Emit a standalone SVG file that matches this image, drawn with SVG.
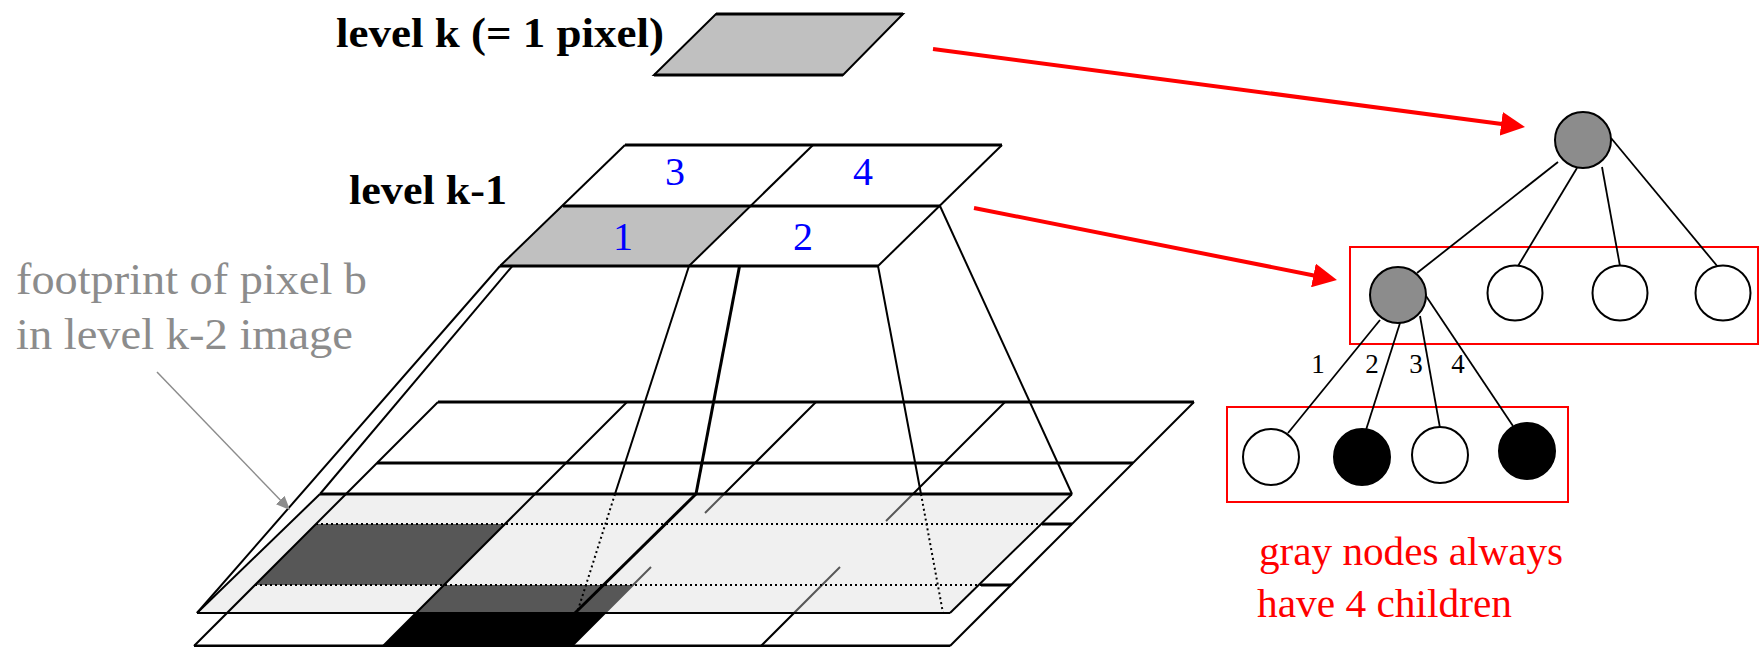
<svg xmlns="http://www.w3.org/2000/svg" width="1761" height="647" viewBox="0 0 1761 647">
<style>
.ln{stroke:#000;stroke-width:2;fill:none}
.th{stroke:#000;stroke-width:3;fill:none}
.dot{stroke:#000;stroke-width:2;fill:none;stroke-dasharray:2 3}
.lbl{font-family:"Liberation Serif","Times New Roman",serif;font-weight:bold;font-size:42px;fill:#000}
.gtxt{font-family:"Liberation Serif","Times New Roman",serif;font-size:44px;fill:#8c8c8c}
.num{font-family:"Liberation Serif","Times New Roman",serif;font-size:40px;fill:#0000ff;text-anchor:middle}
.rtxt{font-family:"Liberation Serif","Times New Roman",serif;font-size:40px;fill:#ff0000}
.enum{font-family:"Liberation Serif","Times New Roman",serif;font-size:27px;fill:#000;text-anchor:middle}
.red{stroke:#ff0000;stroke-width:4;fill:none}
.box{stroke:#ff0000;stroke-width:2;fill:none}
.node{stroke:#000;stroke-width:2}
.tree{stroke:#000;stroke-width:1.8;fill:none}
.cell{stroke:none}
</style>
<defs>
<marker id="redhead" markerUnits="userSpaceOnUse" markerWidth="24" markerHeight="24" refX="12" refY="12" orient="auto">
<path d="M0,0 L24,12 L0,24 z" fill="#ff0000"/>
</marker>
<marker id="grayhead" markerUnits="userSpaceOnUse" markerWidth="14" markerHeight="12" refX="7" refY="6" orient="auto">
<path d="M0,0 L14,6 L0,12 z" fill="#8c8c8c"/>
</marker>
</defs>
<rect width="1761" height="647" fill="#fff"/>

<!-- level k-2 grid (4x4) -->
<g id="level-k2-grid">
<polygon class="cell" points="438,402 1194,402 950,646 194,646" fill="#fff"/>
<polygon class="cell" points="316,524 505,524 444,585 255,585" fill="#000"/>
<polygon class="cell" points="444,585 633,585 572,646 383,646" fill="#000"/>
<line class="th" x1="438" y1="402" x2="1194" y2="402"/>
<line class="th" x1="377" y1="463" x2="1133" y2="463"/>
<line class="th" x1="1042" y1="524" x2="1072" y2="524"/>
<line class="th" x1="981" y1="585" x2="1011" y2="585"/>
<line class="th" x1="194" y1="646" x2="950" y2="646"/>
<line class="ln" x1="1194" y1="402" x2="950" y2="646"/>
<line class="ln" x1="816" y1="402" x2="705" y2="513"/>
<line class="ln" x1="651" y1="567" x2="572" y2="646"/>
<line class="ln" x1="1005" y1="402" x2="886" y2="521"/>
<line class="ln" x1="840" y1="567" x2="761" y2="646"/>
</g>

<!-- footprint of pixel b (shaded) -->
<g id="footprint">
<polygon points="320,494 1072,494 950,613 197,613" fill="#d9d9d9" fill-opacity="0.4"/>
<line class="dot" x1="316" y1="524" x2="1042" y2="524"/>
<line class="dot" x1="255" y1="585" x2="981" y2="585"/>
<line class="ln" x1="438" y1="402" x2="194" y2="646"/>
<line class="ln" x1="627" y1="402" x2="383" y2="646"/>
<line class="th" x1="320" y1="494" x2="1072" y2="494"/>
<line class="ln" x1="197" y1="613" x2="950" y2="613"/>
<line class="ln" x1="320" y1="494" x2="197" y2="613"/>
<line class="ln" x1="1072" y1="494" x2="950" y2="613"/>
<line class="th" x1="696" y1="494" x2="575" y2="613"/>
</g>

<!-- projection lines -->
<g id="projection-lines">
<line class="ln" x1="500" y1="266" x2="197" y2="613"/>
<line class="ln" x1="563" y1="206" x2="320" y2="494"/>
<line class="th" x1="751" y1="206" x2="696" y2="494"/>
<line class="ln" x1="689" y1="266" x2="615" y2="494"/>
<line class="dot" x1="615" y1="494" x2="577" y2="613"/>
<line class="ln" x1="940" y1="206" x2="1072" y2="494"/>
<line class="ln" x1="878" y1="266" x2="921" y2="494"/>
<line class="dot" x1="921" y1="494" x2="943" y2="613"/>
</g>

<!-- level k-1 (2x2) -->
<g id="level-k1">
<polygon class="cell" points="625,145 813,145 751,206 563,206" fill="#fff"/>
<polygon class="cell" points="813,145 1002,145 940,206 751,206" fill="#fff"/>
<polygon class="cell" points="563,206 751,206 689,266 500,266" fill="#c0c0c0"/>
<polygon class="cell" points="751,206 940,206 878,266 689,266" fill="#fff"/>
<line class="th" x1="625" y1="145" x2="1002" y2="145"/>
<line class="th" x1="563" y1="206" x2="940" y2="206"/>
<line class="th" x1="500" y1="266" x2="878" y2="266"/>
<line class="ln" x1="625" y1="145" x2="500" y2="266"/>
<line class="ln" x1="1002" y1="145" x2="878" y2="266"/>
<line class="ln" x1="813" y1="145" x2="689" y2="266"/>
<text class="num" x="675" y="185">3</text>
<text class="num" x="863" y="185">4</text>
<text class="num" x="623" y="250">1</text>
<text class="num" x="803" y="250">2</text>
</g>

<!-- level k (1 pixel) -->
<g id="level-k">
<polygon points="716,14 903,14 843,75 654,75" fill="#c0c0c0" stroke="#000" stroke-width="2"/>
<line class="th" x1="716" y1="14" x2="903" y2="14"/>
<line class="th" x1="654" y1="75" x2="843" y2="75"/>
</g>

<!-- labels -->
<g id="labels">
<text class="lbl" x="336" y="47" textLength="328" lengthAdjust="spacingAndGlyphs">level k (= 1 pixel)</text>
<text class="lbl" x="349" y="204" textLength="158" lengthAdjust="spacingAndGlyphs">level k-1</text>
<text class="gtxt" x="16" y="294" textLength="351" lengthAdjust="spacingAndGlyphs">footprint of pixel b</text>
<text class="gtxt" x="16" y="349" textLength="337" lengthAdjust="spacingAndGlyphs">in level k-2 image</text>
<text class="rtxt" x="1259" y="565" textLength="304" lengthAdjust="spacingAndGlyphs">gray nodes always</text>
<text class="rtxt" x="1257" y="617" textLength="255" lengthAdjust="spacingAndGlyphs">have 4 children</text>
</g>

<!-- red grouping boxes -->
<g id="box-level-k1">
<rect class="box" x="1350" y="247" width="408" height="97"/>
</g>
<g id="box-level-k2">
<rect class="box" x="1227" y="407" width="341" height="95"/>
</g>

<!-- connectors -->
<g id="connectors">
<line class="tree" x1="1558" y1="162" x2="1417" y2="273"/>
<line class="tree" x1="1577" y1="168" x2="1518" y2="266"/>
<line class="tree" x1="1602" y1="167" x2="1620" y2="266"/>
<line class="tree" x1="1611" y1="138" x2="1718" y2="267"/>
<line class="tree" x1="1380" y1="320" x2="1288" y2="433"/>
<line class="tree" x1="1400" y1="323" x2="1366" y2="430"/>
<line class="tree" x1="1420" y1="316" x2="1440" y2="428"/>
<line class="tree" x1="1426" y1="296" x2="1513" y2="426"/>
<line class="red" x1="933" y1="49" x2="1513.1" y2="125.4" marker-end="url(#redhead)"/>
<line class="red" x1="974" y1="208" x2="1325.2" y2="277.7" marker-end="url(#redhead)"/>
<line x1="157" y1="372" x2="285.1" y2="505" stroke="#8c8c8c" stroke-width="1.5" marker-end="url(#grayhead)"/>
<text class="enum" x="1318" y="373">1</text>
<text class="enum" x="1372" y="373">2</text>
<text class="enum" x="1416" y="373">3</text>
<text class="enum" x="1458" y="373">4</text>
</g>

<!-- tree nodes -->
<g id="node-root"><circle class="node" cx="1583" cy="140" r="28" fill="#8c8c8c"/></g>
<g id="node-k1-1"><circle class="node" cx="1398" cy="295" r="28" fill="#8c8c8c"/></g>
<g id="node-k1-2"><circle class="node" cx="1515" cy="293" r="27.5" fill="#fff"/></g>
<g id="node-k1-3"><circle class="node" cx="1620" cy="293" r="27.5" fill="#fff"/></g>
<g id="node-k1-4"><circle class="node" cx="1723" cy="293" r="27.5" fill="#fff"/></g>
<g id="node-k2-1"><circle class="node" cx="1271" cy="457" r="28" fill="#fff"/></g>
<g id="node-k2-2"><circle class="node" cx="1362" cy="457" r="28" fill="#000"/></g>
<g id="node-k2-3"><circle class="node" cx="1440" cy="455" r="28" fill="#fff"/></g>
<g id="node-k2-4"><circle class="node" cx="1527" cy="451" r="28" fill="#000"/></g>
</svg>
